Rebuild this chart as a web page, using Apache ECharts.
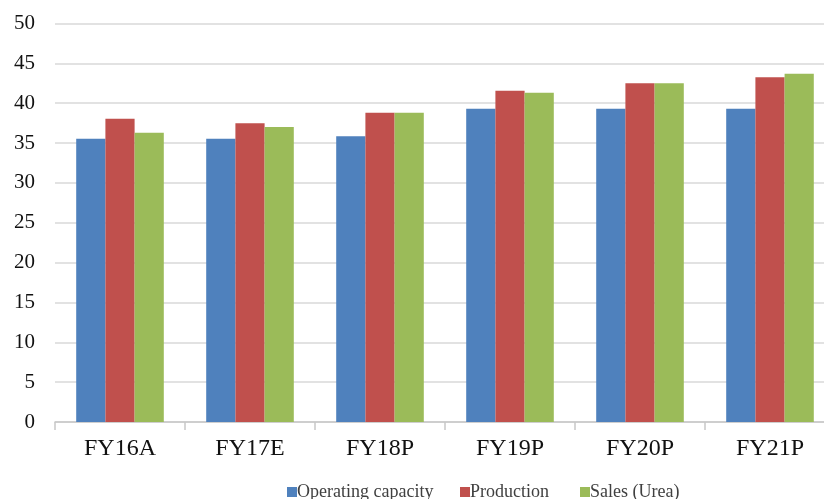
<!DOCTYPE html>
<html>
<head>
<meta charset="utf-8">
<script src="https://cdn.jsdelivr.net/npm/echarts@6/dist/echarts.min.js"></script>
<style>html,body{margin:0;padding:0;background:#fff;overflow:hidden;width:824px;height:499px}#c{width:860px;height:499px}</style>
</head>
<body>
<div id="c"></div>
<script>
var categories = ['FY16A', 'FY17E', 'FY18P', 'FY19P', 'FY20P', 'FY21P'];
var operatingCapacity = [35.55, 35.55, 35.85, 39.3, 39.3, 39.3];
var production = [38.05, 37.5, 38.8, 41.55, 42.5, 43.25];
var salesUrea = [36.3, 37.0, 38.8, 41.3, 42.5, 43.7];
var seriesNames = ['Operating capacity', 'Production', 'Sales (Urea)'];
var colors = ['#4F81BD', '#C0504D', '#9BBB59'];

var chart = echarts.init(document.getElementById('c'), null, {renderer: 'canvas'});
var font = 'Liberation Serif';
var data = [operatingCapacity, production, salesUrea];
var legendLefts = [282, 455, 575];
chart.setOption({
  animation: false,
  grid: {left: 55, top: 23.5, width: 780, height: 398.5, containLabel: false},
  legend: seriesNames.map(function (n, i) {
    return {
      left: legendLefts[i], top: 478,
      itemWidth: 10, itemHeight: 10, itemGap: 0,
      icon: 'rect',
      textStyle: {fontFamily: font, fontSize: 18, color: '#404040', padding: [0, 0, 0, -5]},
      data: [n]
    };
  }),
  xAxis: {
    type: 'category',
    data: categories,
    axisLine: {lineStyle: {color: '#c8c8c8', width: 1.5}},
    axisTick: {show: true, length: 8, lineStyle: {color: '#c8c8c8', width: 1.5}},
    axisLabel: {fontFamily: font, fontSize: 24, color: '#111', margin: 15}
  },
  yAxis: {
    type: 'value', min: 0, max: 50, interval: 5,
    axisLine: {show: false}, axisTick: {show: false},
    splitLine: {lineStyle: {color: '#d9d9d9', width: 1.5}},
    axisLabel: {fontFamily: font, fontSize: 21, color: '#111', margin: 20}
  },
  series: seriesNames.map(function (n, i) {
    return {
      name: n, type: 'bar', data: data[i],
      barWidth: 29.2, barGap: '0%',
      itemStyle: {color: colors[i]}
    };
  })
});
</script>
</body>
</html>
